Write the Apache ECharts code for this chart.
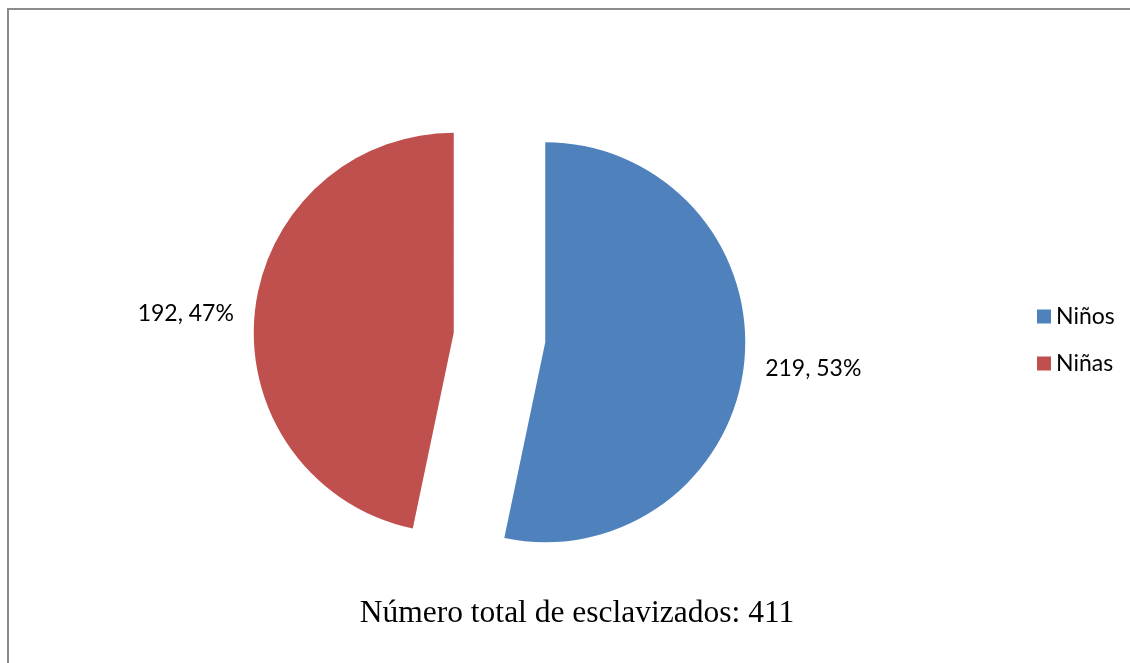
<!DOCTYPE html>
<html>
<head>
<meta charset="utf-8">
<script src="https://cdn.jsdelivr.net/npm/echarts@6/dist/echarts.min.js"></script>
<style>
  html, body { margin: 0; padding: 0; background: #fff; overflow: hidden; }
  #chart { width: 1130px; height: 663px; }
</style>
</head>
<body>
<div id="chart"></div>
<script>
const categories = ['Niños', 'Niñas'];
const values = [219, 192];
const colors = ['#4F81BD', '#C0504D'];
const titleText = 'Número total de esclavizados: 411';

const chart = echarts.init(document.getElementById('chart'));
const option = {
  animation: false,
  color: colors,
  title: {
    text: titleText,
    left: 572,
    textAlign: 'center',
    top: 593,
    textStyle: {
      fontFamily: 'Liberation Serif',
      fontWeight: 'normal',
      fontSize: 31.5,
      color: '#000'
    }
  },
  legend: {
    orient: 'vertical',
    left: 1032,
    top: 300,
    itemWidth: 14,
    itemHeight: 14,
    itemGap: 24,
    icon: 'rect',
    textStyle: {
      fontFamily: 'Lato',
      fontSize: 23,
      color: '#000'
    },
    data: categories
  },
  // marco del gráfico: solo se ven el borde izquierdo y el superior
  graphic: [{
    type: 'polyline',
    shape: { points: [[8, 663], [8, 9], [1130, 9]] },
    style: { fill: 'none', stroke: '#8c8c8c', lineWidth: 2 },
    silent: true
  }],
  series: [{
    type: 'pie',
    center: [499.5, 337.5],
    radius: 200,
    startAngle: 90,
    clockwise: true,
    selectedMode: 'multiple',
    selectedOffset: 46,
    emphasis: { disabled: true },
    label: {
      show: true,
      position: 'outside',
      formatter: function (p) { return p.value + ', ' + Math.round(p.percent) + '%'; },
      fontFamily: 'Lato',
      fontSize: 23,
      color: '#000'
    },
    labelLine: { show: false, length: 12, length2: 4 },
    labelLayout: function (p) {
      return { dy: p.dataIndex === 0 ? 5 : 3 };
    },
    data: categories.map(function (name, i) {
      return { name: name, value: values[i], selected: true };
    })
  }]
};
chart.setOption(option);
</script>
</body>
</html>
